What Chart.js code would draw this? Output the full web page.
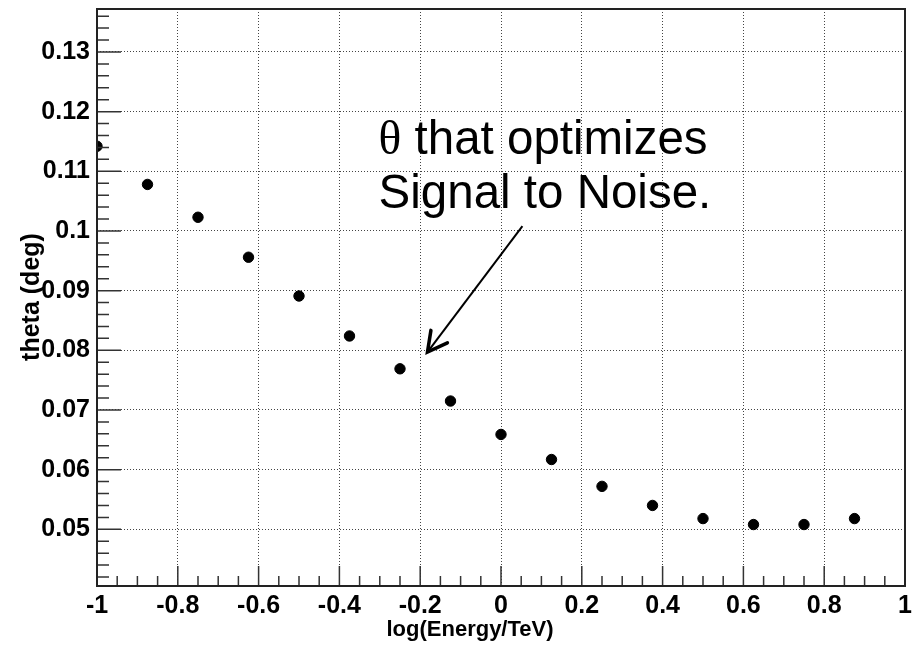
<!DOCTYPE html>
<html><head><meta charset="utf-8">
<script src="https://cdn.jsdelivr.net/npm/chart.js@4.4.0/dist/chart.umd.min.js"></script>
<style>html,body{margin:0;padding:0;background:#fff}#wrap{width:918px;height:647px;position:relative}</style>
</head><body><div id="wrap"><canvas id="c" width="918" height="647"></canvas></div>
<script>
const logEnergy = [-1, -0.875, -0.75, -0.625, -0.5, -0.375, -0.25, -0.125, 0, 0.125, 0.25, 0.375, 0.5, 0.625, 0.75, 0.875];
const thetaDeg = [0.1142, 0.1078, 0.1023, 0.0956, 0.0891, 0.0824, 0.0769, 0.0715, 0.0659, 0.0617, 0.0572, 0.0540, 0.0518, 0.0508, 0.0508, 0.0518];
const xTickValues = [-1, -0.8, -0.6, -0.4, -0.2, 0, 0.2, 0.4, 0.6, 0.8, 1];
const xTickLabels = ['-1', '-0.8', '-0.6', '-0.4', '-0.2', '0', '0.2', '0.4', '0.6', '0.8', '1'];
const yTickValues = [0.05, 0.06, 0.07, 0.08, 0.09, 0.10, 0.11, 0.12, 0.13];
const yTickLabels = ['0.05', '0.06', '0.07', '0.08', '0.09', '0.1', '0.11', '0.12', '0.13'];
const xTitle = 'log(Energy/TeV)';
const yTitle = 'theta (deg)';
const noteSymbol = '\u03B8';
const noteLine1 = ' that optimizes';
const noteLine2 = 'Signal to Noise.';

const X_MIN = -1, X_MAX = 1, Y_MIN = 0.0405, Y_MAX = 0.1372;
// annotation anchor (data coordinates)
const NOTE_X = -0.303, NOTE_Y1 = 0.1129, NOTE_Y2 = 0.1038;
const ARROW_TAIL = {x: 0.053, y: 0.1008}, ARROW_TIP = {x: -0.182, y: 0.0797};

const xMinor = [], yMinor = [];
for (let k = -19; k <= 19; k++) xMinor.push(k * 0.05);
for (let k = 21; k <= 68; k++) yMinor.push(k * 0.002);

const tickFont = {family: "'Liberation Sans', Arial, sans-serif", weight: 'bold', size: 25};

const rootDecor = {
  id: 'rootDecor',
  afterDraw(chart) {
    const ctx = chart.ctx, a = chart.chartArea;
    const xs = chart.scales.x, ys = chart.scales.y;
    ctx.save();
    // ticks inside the frame
    ctx.strokeStyle = '#333';
    ctx.lineWidth = 1.5;
    ctx.beginPath();
    xMinor.forEach(v => { const p = xs.getPixelForValue(v); ctx.moveTo(p, a.bottom); ctx.lineTo(p, a.bottom - 10); });
    xTickValues.forEach(v => { const p = xs.getPixelForValue(v); ctx.moveTo(p, a.bottom); ctx.lineTo(p, a.bottom - 20); });
    yMinor.forEach(v => { if (v < Y_MIN || v > Y_MAX) return; const p = ys.getPixelForValue(v); ctx.moveTo(a.left, p); ctx.lineTo(a.left + 12, p); });
    yTickValues.forEach(v => { const p = ys.getPixelForValue(v); ctx.moveTo(a.left, p); ctx.lineTo(a.left + 24, p); });
    ctx.stroke();
    // frame
    ctx.strokeStyle = '#222';
    ctx.lineWidth = 2;
    ctx.strokeRect(a.left, a.top, a.right - a.left, a.bottom - a.top);

    // annotation text
    ctx.fillStyle = '#000';
    const nx = xs.getPixelForValue(NOTE_X);
    ctx.textBaseline = 'alphabetic';
    ctx.textAlign = 'left';
    ctx.font = "47.5px 'Liberation Serif', 'Times New Roman', serif";
    ctx.fillText(noteSymbol, nx, ys.getPixelForValue(NOTE_Y1));
    const w = ctx.measureText(noteSymbol).width;
    ctx.font = "47.5px 'Liberation Sans', Arial, sans-serif";
    ctx.fillText(noteLine1, nx + w, ys.getPixelForValue(NOTE_Y1));
    ctx.fillText(noteLine2, nx, ys.getPixelForValue(NOTE_Y2));

    // arrow
    const tx = xs.getPixelForValue(ARROW_TAIL.x), ty = ys.getPixelForValue(ARROW_TAIL.y);
    const hx = xs.getPixelForValue(ARROW_TIP.x), hy = ys.getPixelForValue(ARROW_TIP.y);
    ctx.strokeStyle = '#000';
    ctx.lineWidth = 2;
    ctx.beginPath(); ctx.moveTo(tx, ty); ctx.lineTo(hx, hy); ctx.stroke();
    const ang = Math.atan2(ty - hy, tx - hx);
    const L = 22, spread = 28 * Math.PI / 180;
    ctx.lineWidth = 3.5; ctx.lineCap = 'round';
    ctx.beginPath();
    ctx.moveTo(hx + L * Math.cos(ang - spread), hy + L * Math.sin(ang - spread));
    ctx.lineTo(hx, hy);
    ctx.lineTo(hx + L * Math.cos(ang + spread), hy + L * Math.sin(ang + spread));
    ctx.stroke();

    // axis titles
    ctx.font = "bold 22px 'Liberation Sans', Arial, sans-serif";
    ctx.textAlign = 'center';
    ctx.textBaseline = 'alphabetic';
    ctx.fillText(xTitle, 470, 636);
    ctx.translate(32, 297);
    ctx.rotate(-Math.PI / 2);
    ctx.font = "bold 25px 'Liberation Sans', Arial, sans-serif";
    ctx.textBaseline = 'middle';
    ctx.fillText(yTitle, 0, 0);
    ctx.restore();
  }
};

const gridColor = (edgeVals) => (c) => (c.tick && edgeVals.includes(c.tick.value)) ? 'rgba(0,0,0,0)' : '#444';
const noPad = s => { s.paddingTop = 0; s.paddingBottom = 0; s.paddingLeft = 0; s.paddingRight = 0; };

new Chart(document.getElementById('c'), {
  type: 'scatter',
  data: {
    datasets: [{
      label: 'theta',
      data: logEnergy.map((x, i) => ({x: x, y: thetaDeg[i]})),
      backgroundColor: '#000',
      borderColor: '#000',
      pointRadius: 5.2,
      pointHoverRadius: 5.2,
      showLine: false
    }]
  },
  options: {
    responsive: false,
    animation: false,
    events: [],
    layout: {padding: {left: 0, right: 13, top: 9, bottom: 0}},
    plugins: {legend: {display: false}, tooltip: {enabled: false}, title: {display: false}},
    scales: {
      x: {
        type: 'linear', min: X_MIN, max: X_MAX,
        afterBuildTicks: s => { s.ticks = xTickValues.map(v => ({value: v})); },
        afterFit: s => { s.height = 61; noPad(s); },
        ticks: {
          callback: v => xTickLabels[xTickValues.findIndex(t => Math.abs(t - v) < 1e-9)],
          font: tickFont, color: '#000', padding: 5, maxRotation: 0, autoSkip: false
        },
        grid: {color: gridColor([X_MIN, X_MAX]), lineWidth: 1, drawTicks: false},
        border: {display: false, dash: [1, 2]}
      },
      y: {
        type: 'linear', min: Y_MIN, max: Y_MAX,
        afterBuildTicks: s => { s.ticks = yTickValues.map(v => ({value: v})); },
        afterFit: s => { s.width = 97; noPad(s); },
        ticks: {
          callback: v => yTickLabels[yTickValues.findIndex(t => Math.abs(t - v) < 1e-9)],
          font: tickFont, color: '#000', padding: 7, autoSkip: false
        },
        grid: {color: gridColor([]), lineWidth: 1, drawTicks: false},
        border: {display: false, dash: [1, 2]}
      }
    }
  },
  plugins: [rootDecor]
});
</script>
</body></html>
